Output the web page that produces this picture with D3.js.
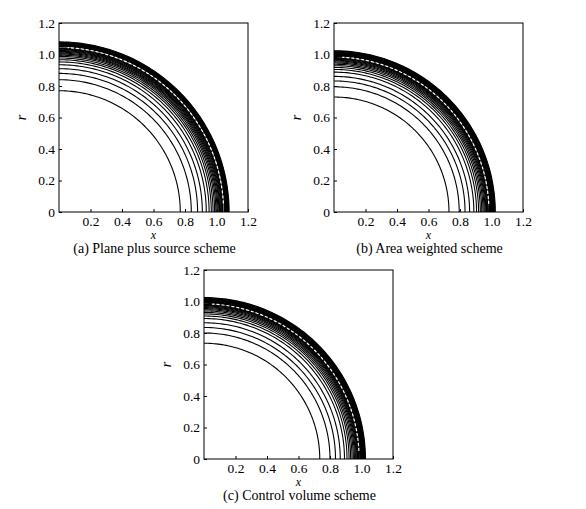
<!DOCTYPE html>
<html>
<head>
<meta charset="utf-8">
<script src="https://cdn.jsdelivr.net/npm/d3@7"></script>
<style>
  body { margin: 0; background: #fff; }
</style>
</head>
<body>
<div id="chart"></div>
<script>

// axis ticks shared by all three panels
const xTicks = [0.2, 0.4, 0.6, 0.8, 1.0, 1.2]
const yTicks = [0, 0.2, 0.4, 0.6, 0.8, 1.0, 1.2]

const captions = [
    '(a) Plane plus source scheme',
    '(b) Area weighted scheme',
    '(c) Control volume scheme'
]

// contour radii (value where each line meets the axes)
const contoursA = [0.77, 0.84, 0.88, 0.91, 0.935, 0.953, 0.967, 0.978, 0.988, 0.996,
    1.003, 1.009, 1.015, 1.020, 1.025, 1.030, 1.034, 1.038, 1.041, 1.050,
    1.053, 1.056, 1.059, 1.062, 1.065, 1.068, 1.071, 1.074, 1.077, 1.080]
const contoursB = [0.73, 0.795, 0.832, 0.861, 0.888, 0.905, 0.918, 0.929, 0.938, 0.946,
    0.953, 0.959, 0.964, 0.969, 0.973, 0.977, 0.980, 0.988, 0.991, 0.994,
    0.997, 1.000, 1.003, 1.006, 1.009, 1.012, 1.015, 1.018, 1.021, 1.024]
const contoursC = [0.735, 0.80, 0.835, 0.865, 0.892, 0.908, 0.921, 0.931, 0.940, 0.948,
    0.955, 0.961, 0.966, 0.971, 0.975, 0.979, 0.982, 0.989, 0.992, 0.995,
    0.998, 1.001, 1.004, 1.007, 1.010, 1.013, 1.016, 1.019, 1.022, 1.025]

// white broken line running through the shock band
const gaps = [1.045, 0.984, 0.985]

const width = 586
const height = 509
const size = 189
const serif = '"Liberation Serif", "Times New Roman", serif'

const panels = [
    { left: 59, top: 23, contours: contoursA },
    { left: 334, top: 23, contours: contoursB },
    { left: 204, top: 270, contours: contoursC }
]

const svg = d3.select('#chart')
    .append('svg')
    .attr('width', width)
    .attr('height', height)
    .attr('font-family', serif)

const angles = d3.range(0, 91, 1).map(a => a * Math.PI / 180)

panels.forEach((p, i) => {

    let xScale = d3.scaleLinear().domain([0, 1.2]).range([0, size])
    let yScale = d3.scaleLinear().domain([0, 1.2]).range([size, 0])

    const g = svg.append('g')
        .attr('transform', 'translate(' + p.left + ',' + p.top + ')')

    g.append('clipPath').attr('id', 'clip' + i)
        .append('rect').attr('width', size).attr('height', size)

    let arc = d3.line()
        .x(d => xScale(d[0]))
        .y(d => yScale(d[1]))

    const quarter = r => angles.map(a => [r * Math.cos(a), r * Math.sin(a)])

    const plot = g.append('g').attr('clip-path', 'url(#clip' + i + ')')

    plot.selectAll('path.contour')
        .data(p.contours)
        .enter()
        .append('path')
        .attr('class', 'contour')
        .attr('d', r => arc(quarter(r)))
        .attr('fill', 'none')
        .attr('stroke', '#000')
        .attr('stroke-width', 1.1)

    plot.append('path')
        .attr('d', arc(quarter(gaps[i]).slice(3, 88)))
        .attr('fill', 'none')
        .attr('stroke', '#fff')
        .attr('stroke-width', 1.2)
        .attr('stroke-dasharray', '3,2')

    let xAxis = d3.axisBottom(xScale)
        .tickValues(xTicks)
        .tickSize(-3)
        .tickPadding(4)
        .tickFormat(d3.format('.1f'))

    let yAxis = d3.axisLeft(yScale)
        .tickValues(yTicks)
        .tickSize(-3)
        .tickPadding(4)
        .tickFormat(d => d === 0 ? '0' : d3.format('.1f')(d))

    const gx = g.append('g')
        .attr('transform', 'translate(0,' + size + ')')
        .call(xAxis)
    const gy = g.append('g').call(yAxis)

    ;[gx, gy].forEach(a => {
        a.attr('font-family', serif).attr('font-size', 13)
        a.select('.domain').remove()
        a.selectAll('text').style('font-family', serif).style('font-size', '13.5px').attr('fill', '#000')
        a.selectAll('line').attr('stroke', '#000')
    })

    g.append('rect')
        .attr('width', size)
        .attr('height', size)
        .attr('fill', 'none')
        .attr('stroke', '#000')
        .attr('stroke-width', 1)

    g.append('text')
        .attr('x', size / 2)
        .attr('y', size + 27)
        .attr('text-anchor', 'middle')
        .style('font-family', serif)
        .style('font-size', '12px')
        .style('font-style', 'italic')
        .text('x')

    g.append('text')
        .attr('transform', 'translate(-33,' + (size / 2) + ') rotate(-90)')
        .attr('text-anchor', 'middle')
        .style('font-family', serif)
        .style('font-size', '14px')
        .style('font-style', 'italic')
        .text('r')

    g.append('text')
        .attr('x', size / 2 + 1)
        .attr('y', size + 41)
        .attr('text-anchor', 'middle')
        .style('font-family', serif)
        .style('font-size', '14px')
        .text(captions[i])
})

</script>
</body>
</html>
